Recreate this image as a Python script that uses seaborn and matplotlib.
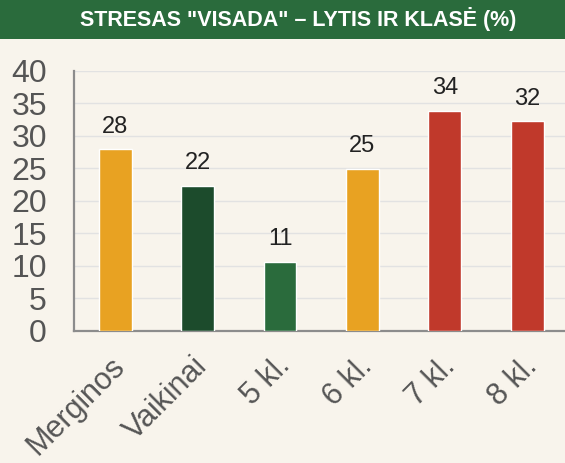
import matplotlib
matplotlib.use("Agg")
import matplotlib.pyplot as plt
import matplotlib.transforms as mtransforms
import seaborn as sns
import pandas as pd
from matplotlib.patches import Rectangle

# --- DATA ---
categories = ["Merginos", "Vaikinai", "5 kl.", "6 kl.", "7 kl.", "8 kl."]
values = [27.9, 22.3, 10.6, 24.9, 33.8, 32.2]
value_labels = ["28", "22", "11", "25", "34", "32"]
bar_colors = ["#E8A222", "#1C4B2C", "#2A6B3C", "#E8A222", "#C0392B", "#C0392B"]
y_ticks = [0, 5, 10, 15, 20, 25, 30, 35, 40]
title = 'STRESAS "VISADA" – LYTIS IR KLASĖ (%)'

bg = "#F8F4EC"
banner = "#2A6B3C"

sns.set_style("white")
plt.rcParams["font.family"] = ["Liberation Sans", "DejaVu Sans"]

df = pd.DataFrame({"cat": categories, "val": values})

fig = plt.figure(figsize=(5.65, 4.63), dpi=100, facecolor=bg)
ax = fig.add_axes([74 / 565, 132 / 463, 494.4 / 565, 260.3 / 463])
ax.set_facecolor(bg)

sns.barplot(data=df, x="cat", y="val", hue="cat", palette=bar_colors,
            legend=False, width=0.4, saturation=1, ax=ax, zorder=3)

for i, (v, lbl) in enumerate(zip(values, value_labels)):
    ax.text(i, v + 2.6, lbl, ha="center", va="baseline", fontsize=17, color="#222222")

ax.set_xlim(-0.5, 5.5)
ax.set_ylim(0, 40)
ax.set_yticks(y_ticks)
ax.yaxis.grid(True, color="#E2E2E2", linewidth=1.0, zorder=0)
ax.set_axisbelow(True)

# category boundary ticks
ax.set_xticks([i - 0.5 for i in range(len(categories))], minor=True)
ax.tick_params(axis="x", which="minor", length=6, width=1.5, color="#8C8C8C", direction="out")
ax.set_xticks(range(len(categories)))
ax.set_xticklabels(categories, rotation=45, ha="right", va="center", rotation_mode="anchor",
                   fontsize=22, color="#555555")
ax.tick_params(axis="x", which="major", length=0, pad=22)
# nudge the rotated labels a little to the right
shift = mtransforms.ScaledTranslation(4 / 72, 0, fig.dpi_scale_trans)
for lab in ax.get_xticklabels():
    lab.set_transform(lab.get_transform() + shift)
ax.tick_params(axis="y", which="major", length=6.5, width=1.5, color="#8C8C8C",
               labelsize=23, labelcolor="#555555", pad=13)

for s in ["top", "right"]:
    ax.spines[s].set_visible(False)
for s in ["left", "bottom"]:
    ax.spines[s].set_color("#8C8C8C")
    ax.spines[s].set_linewidth(1.6)

ax.set_xlabel("")
ax.set_ylabel("")

# title banner
fig.patches.append(Rectangle((0, 1 - 39 / 463), 1, 39 / 463, transform=fig.transFigure,
                             facecolor=banner, edgecolor="none", zorder=0))
fig.text(298 / 565, 1 - 19 / 463, title, ha="center", va="center", color="white",
         fontsize=15.5, fontweight="bold")

fig.savefig("out.png", dpi=100, facecolor=bg)
